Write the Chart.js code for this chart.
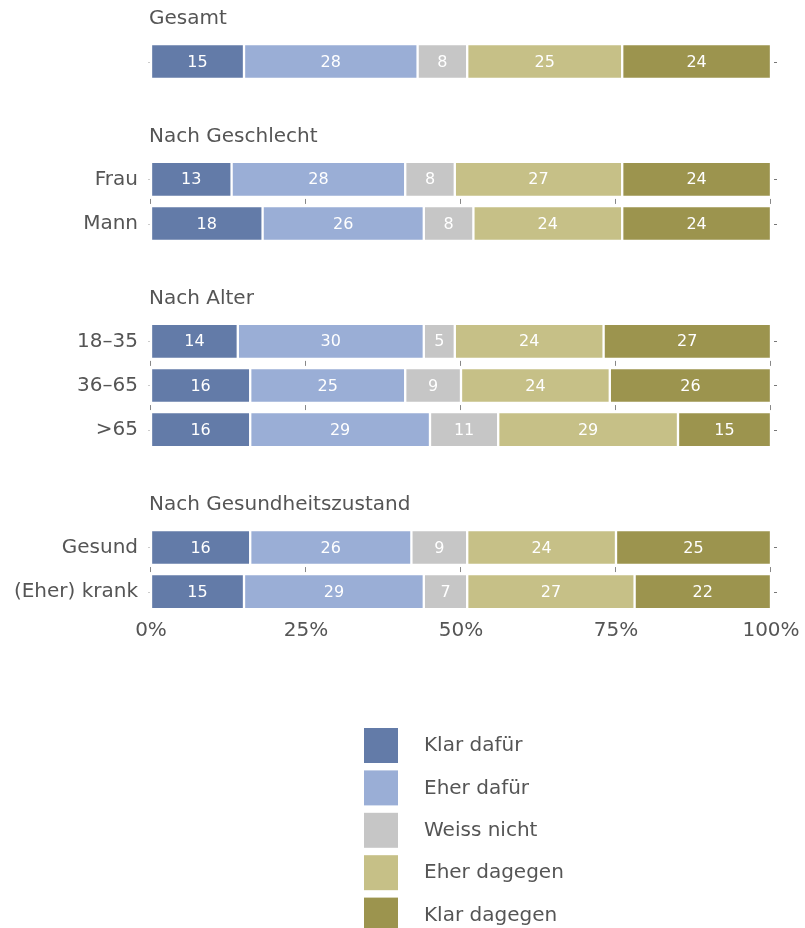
<!DOCTYPE html>
<html><head><meta charset="utf-8">
<script src="https://cdn.jsdelivr.net/npm/chart.js@4"></script>
<style>html,body{margin:0;padding:0;background:#fff}canvas{display:block}</style>
</head><body><canvas id="c" width="805" height="928" style="width:805px;height:928px"></canvas>
<script>
// ---- data ----
const groupTitles = ['Gesamt', 'Nach Geschlecht', 'Nach Alter', 'Nach Gesundheitszustand'];
const rowLabels = ['', 'Frau', 'Mann', '18–35', '36–65', '>65', 'Gesund', '(Eher) krank'];
const rowGroups = [0, 1, 1, 2, 2, 2, 3, 3];
const seriesNames = ['Klar dafür', 'Eher dafür', 'Weiss nicht', 'Eher dagegen', 'Klar dagegen'];
const klarDafuer  = [15, 13, 18, 14, 16, 16, 16, 15];
const eherDafuer  = [28, 28, 26, 30, 25, 29, 26, 29];
const weissNicht  = [8, 8, 8, 5, 9, 11, 9, 7];
const eherDagegen = [25, 27, 24, 24, 24, 29, 24, 27];
const klarDagegen = [24, 24, 24, 27, 26, 15, 25, 22];
const xTicks = [0, 25, 50, 75, 100];

// ---- style ----
const seriesColors = ['#637ba8', '#9aaed6', '#c6c6c6', '#c6c087', '#9c944e'];
const TEXT = '#555555';
const FONT = 'DejaVu Sans';
Chart.defaults.font.family = FONT;

// ---- slot layout (header, rows, gaps) ----
const HEADER_GAP = 3, ROW_GAP = 3, GROUP_GAP = 5;
let slot = 0;
const headerSlots = [], rowSlots = [];
groupTitles.forEach((t, g) => {
  headerSlots.push(slot);
  const rows = rowGroups.map((gg, i) => gg === g ? i : -1).filter(i => i >= 0);
  rows.forEach((r, k) => { slot += (k === 0 ? HEADER_GAP : ROW_GAP); rowSlots[r] = slot; });
  if (g < groupTitles.length - 1) slot += GROUP_GAP;
});
const nSlots = slot + 1;
const slotLabels = Array.from({length: nSlots}, () => '');
rowSlots.forEach((s, i) => slotLabels[s] = rowLabels[i]);
function toSlots(vals) {
  const a = Array(nSlots).fill(null);
  rowSlots.forEach((s, i) => a[s] = vals[i]);
  return a;
}
const seriesValues = [klarDafuer, eherDafuer, weissNicht, eherDagegen, klarDagegen];

const decor = {
  id: 'decor',
  afterDatasetsDraw(chart) {
    const ctx = chart.ctx, xs = chart.scales.x, ys = chart.scales.y, ca = chart.chartArea;
    ctx.save();
    // inner ticks between rows of the same group
    ctx.strokeStyle = '#888';
    ctx.lineWidth = 1;
    for (let i = 0; i < rowSlots.length - 1; i++) {
      if (rowGroups[i] !== rowGroups[i + 1]) continue;
      const mid = (ys.getPixelForValue(rowSlots[i]) + ys.getPixelForValue(rowSlots[i + 1])) / 2;
      xTicks.forEach(v => {
        const x = Math.round(xs.getPixelForValue(v)) - 0.5;
        ctx.beginPath(); ctx.moveTo(x, mid - 2.5); ctx.lineTo(x, mid + 2.5); ctx.stroke();
      });
    }
    // small y ticks left and right of each bar
    rowSlots.forEach(s => {
      const y = Math.round(ys.getPixelForValue(s)) + 0.5;
      ctx.strokeStyle = '#cccccc';
      ctx.beginPath(); ctx.moveTo(ca.left - 3, y); ctx.lineTo(ca.left - 1, y); ctx.stroke();
      ctx.strokeStyle = '#777';
      ctx.beginPath(); ctx.moveTo(ca.right + 3, y); ctx.lineTo(ca.right + 6, y); ctx.stroke();
    });
    // value labels
    ctx.fillStyle = '#ffffff';
    ctx.font = '16px "' + FONT + '"';
    ctx.textAlign = 'center';
    ctx.textBaseline = 'middle';
    chart.data.datasets.forEach((ds, di) => {
      const meta = chart.getDatasetMeta(di);
      meta.data.forEach((el, j) => {
        const v = ds.data[j];
        if (v === null || v === undefined) return;
        ctx.fillText(String(v), (el.x + el.base) / 2, el.y + 1);
      });
    });
    // group headers
    ctx.fillStyle = TEXT;
    ctx.font = '20px "' + FONT + '"';
    ctx.textAlign = 'left';
    ctx.textBaseline = 'alphabetic';
    headerSlots.forEach((s, g) => {
      ctx.fillText(groupTitles[g], ca.left - 2, ys.getPixelForValue(s) + 7);
    });
    // legend
    const lx = 364, ly = 728, box = 34, step = 42.4;
    chart.data.datasets.forEach((ds, di) => {
      const y = ly + di * step;
      ctx.fillStyle = ds.backgroundColor;
      ctx.fillRect(lx, y, box, box + 1);
      ctx.fillStyle = TEXT;
      ctx.textBaseline = 'middle';
      ctx.fillText(ds.label, lx + 60, y + box / 2 + 1);
    });
    ctx.restore();
  }
};

new Chart(document.getElementById('c'), {
  type: 'bar',
  data: {
    labels: slotLabels,
    datasets: seriesNames.map((name, i) => ({
      label: name,
      data: toSlots(seriesValues[i]),
      backgroundColor: seriesColors[i],
      borderColor: '#ffffff',
      borderWidth: 1.5,
      borderSkipped: false,
      barThickness: 35,
      clip: false
    }))
  },
  options: {
    indexAxis: 'y',
    responsive: false,
    animation: false,
    devicePixelRatio: 1,
    layout: { padding: { top: 10, right: 34, left: 0, bottom: 0 } },
    plugins: { legend: { display: false }, tooltip: { enabled: false } },
    scales: {
      x: {
        stacked: true, min: 0, max: 100,
        afterBuildTicks(scale) { scale.ticks = xTicks.map(v => ({value: v})); },
        afterFit(scale) { scale.height = 329; scale.paddingLeft = 0; scale.paddingRight = 0; },
        grid: { display: false }, border: { display: false },
        ticks: { color: TEXT, font: { size: 20, family: FONT }, padding: 12, callback: v => v + '%', maxRotation: 0 }
      },
      y: {
        stacked: true,
        afterFit(scale) { scale.width = 151; scale.paddingTop = 0; scale.paddingBottom = 0; },
        grid: { display: false, drawTicks: false }, border: { display: false },
        ticks: { color: TEXT, font: { size: 20, family: FONT }, padding: 13, autoSkip: false }
      }
    }
  },
  plugins: [decor]
});
</script></body></html>
